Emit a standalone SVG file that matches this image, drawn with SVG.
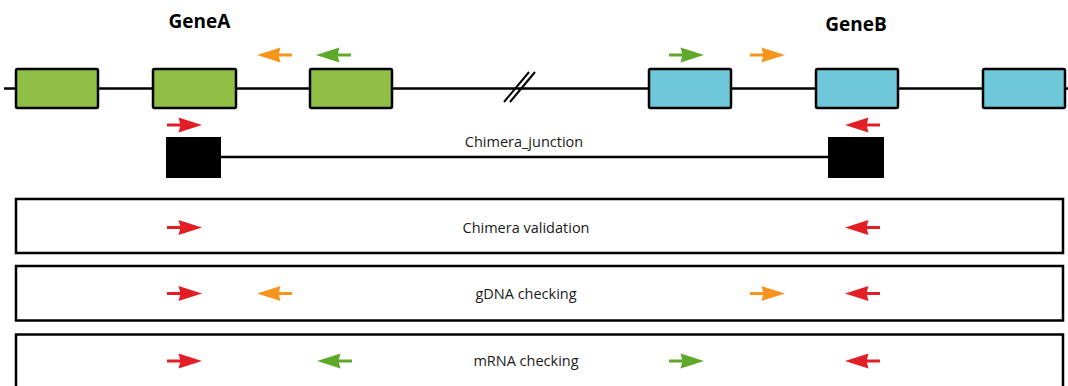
<svg xmlns="http://www.w3.org/2000/svg" width="1068" height="386" viewBox="0 0 1068 386">
<defs>
<style>
.ex{stroke:#000;stroke-width:2.5}
.ga{fill:#8fbf45}
.gb{fill:#6ec8d9}
.ln{stroke:#000;stroke-width:2.5;fill:none}
.box{fill:#fff;stroke:#000;stroke-width:2.5}
.t{font-family:"Open Sans",sans-serif;font-size:14.5px;fill:#1a1a1a;text-anchor:middle}
.tb{font-family:"Open Sans",sans-serif;font-size:19px;font-weight:bold;fill:#000;text-anchor:middle}
.red{fill:#e31e24;stroke:#e31e24}
.org{fill:#f7941d;stroke:#f7941d}
.grn{fill:#5ea92a;stroke:#5ea92a}
</style>
<g id="ar">
<line x1="0" y1="0" x2="14" y2="0" stroke-width="3"/>
<path d="M35,0 L11.5,-7.5 L13.5,0 L11.5,7.5 Z" stroke="none"/>
</g>
<g id="al">
<line x1="35" y1="0" x2="21" y2="0" stroke-width="3"/>
<path d="M0,0 L23.5,-7.5 L21.5,0 L23.5,7.5 Z" stroke="none"/>
</g>
</defs>
<rect width="1068" height="386" fill="#fff"/>
<g id="connectors">
<line class="ln" x1="4" y1="88.5" x2="1068" y2="88.5"/>
<line class="ln" x1="221" y1="157" x2="828" y2="157"/>
<line x1="504" y1="102" x2="529" y2="72" stroke="#000" stroke-width="2"/>
<line x1="510" y1="102" x2="535" y2="72" stroke="#000" stroke-width="2"/>
</g>
<g id="geneA">
<rect class="ex ga" x="16" y="69" width="82" height="39" rx="1.5"/>
<rect class="ex ga" x="153" y="69" width="83" height="39" rx="1.5"/>
<rect class="ex ga" x="310" y="69" width="82" height="39" rx="1.5"/>
<text class="tb" x="199.5" y="28">GeneA</text>
</g>
<g id="geneB">
<rect class="ex gb" x="649" y="69" width="82" height="39" rx="1.5"/>
<rect class="ex gb" x="816" y="69" width="82" height="39" rx="1.5"/>
<rect class="ex gb" x="983" y="69" width="82" height="39" rx="1.5"/>
<text class="tb" x="856" y="31">GeneB</text>
</g>
<g id="primers-top">
<use href="#al" class="org" x="257" y="55"/>
<use href="#al" class="grn" x="316" y="55"/>
<use href="#ar" class="grn" x="669" y="55"/>
<use href="#ar" class="org" x="750" y="55"/>
<use href="#ar" class="red" x="167" y="125"/>
<use href="#al" class="red" x="845" y="125"/>
</g>
<g id="chimera-junction">
<rect x="166" y="137" width="55" height="41" fill="#000"/>
<rect x="828" y="137" width="56" height="41" fill="#000"/>
<text class="t" x="524" y="147">Chimera_junction</text>
</g>
<g id="chimera-validation">
<rect class="box" x="16" y="199" width="1047" height="54"/>
<use href="#ar" class="red" x="167" y="227.5"/>
<use href="#al" class="red" x="845" y="227.5"/>
<text class="t" x="526" y="232.5">Chimera validation</text>
</g>
<g id="gdna-checking">
<rect class="box" x="16" y="266" width="1047" height="54.5"/>
<use href="#ar" class="red" x="167" y="293.5"/>
<use href="#al" class="org" x="257" y="293.5"/>
<use href="#ar" class="org" x="750" y="293.5"/>
<use href="#al" class="red" x="845" y="293.5"/>
<text class="t" x="526" y="298.5">gDNA checking</text>
</g>
<g id="mrna-checking">
<rect class="box" x="16" y="334.5" width="1047" height="60"/>
<use href="#ar" class="red" x="167" y="361"/>
<use href="#al" class="grn" x="317" y="361"/>
<use href="#ar" class="grn" x="669" y="361"/>
<use href="#al" class="red" x="845" y="361"/>
<text class="t" x="526" y="366">mRNA checking</text>
</g>
</svg>
